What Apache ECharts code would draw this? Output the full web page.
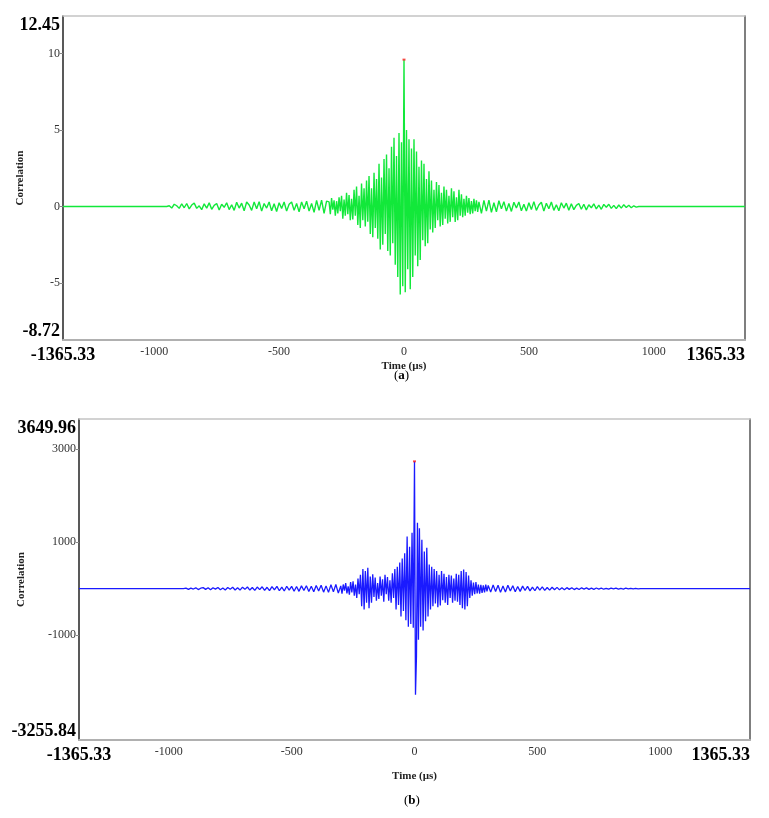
<!DOCTYPE html>
<html><head><meta charset="utf-8">
<script src="https://cdn.jsdelivr.net/npm/echarts@6/dist/echarts.min.js"></script>
<style>html,body{margin:0;padding:0;background:#fff}#c{width:769px;height:818px}</style>
</head><body><div id="c"></div><script>
// ---- tick labels ----
const xTicks = [-1365.33, -1000, -500, 0, 500, 1000, 1365.33];
const yTicksA = [-8.72, -5, 0, 5, 10, 12.45];
const yTicksB = [-3255.84, -1000, 1000, 3000, 3649.96];
const xRange = [-1365.33, 1365.33];
const yRangeA = [-8.72, 12.45];
const yRangeB = [-3255.84, 3649.96];

// ---- panel (a): correlation vs time (µs) ----
const signalA = [
[-1365.33,0],[-950,0],
[-940,0.05],[-930,-0.1],[-920,0.15],[-910,0.05],[-900,-0.12],[-890,0.18],[-880,-0.08],[-870,0.2],
[-860,-0.15],[-850,0.1],[-840,0.22],[-830,-0.12],[-820,0.05],[-810,-0.2],[-800,0.18],[-790,-0.1],
[-780,0.24],[-770,-0.18],[-760,0.08],[-750,0.2],[-740,-0.22],[-730,0.15],[-720,-0.05],[-710,0.25],
[-700,-0.2],[-690,0.12],[-680,-0.25],[-670,0.28],[-660,-0.1],[-650,0.22],[-640,-0.28],[-630,0.3],
[-620,0.1],[-610,-0.25],[-600,0.3],[-590,-0.15],[-580,0.32],[-570,-0.3],[-560,0.2],[-550,-0.1],
[-540,0.3],[-530,-0.28],[-520,0.18],[-510,-0.32],[-500,0.25],[-490,-0.12],[-480,0.3],[-470,-0.3],
[-460,0.15],[-450,0.3],[-440,-0.25],[-430,0.2],[-420,-0.35],[-410,0.3],[-400,-0.15],[-390,0.35],
[-380,-0.3],[-370,0.2],[-360,-0.38],[-350,0.4],[-340,-0.25],[-330,0.42],[-320,-0.45],[-310,0.35],
[-300,0.3],[-295,-0.5],[-290,0.55],[-285,-0.2],[-280,0.4],[-275,-0.6],[-270,0.35],[-265,-0.45],
[-260,0.6],[-255,-0.3],[-250,0.7],[-245,-0.8],[-240,0.45],[-235,-0.6],[-230,0.9],[-225,-0.5],
[-220,0.75],[-215,-0.9],[-210,0.5],[-205,-0.85],[-200,1.1],[-195,-0.6],[-190,1.3],[-185,-1.2],
[-180,0.7],[-175,-1.4],[-170,1.5],[-165,-0.9],[-160,1.2],[-155,-1.3],[-150,1.7],[-145,-1.0],
[-140,2.0],[-135,-1.8],[-130,1.2],[-125,-2.0],[-120,2.2],[-115,-1.4],[-110,1.8],[-105,-2.1],
[-100,2.8],[-95,-2.8],[-90,1.9],[-85,-2.5],[-80,3.1],[-75,-1.8],[-70,3.4],[-65,-2.9],
[-60,2.5],[-55,-3.2],[-50,3.9],[-45,-2.4],[-40,4.5],[-35,-3.8],[-30,3.3],[-25,-4.6],
[-20,4.8],[-15,-5.75],[-10,4.2],[-5,-5.2],[0,9.6],[5,-5.6],[10,5.0],[15,-4.1],
[20,4.4],[25,-5.4],[30,3.8],[35,-4.6],[40,4.4],[45,-3.2],[50,3.6],[55,-3.9],
[60,2.6],[65,-3.5],[70,3.0],[75,-2.2],[80,2.8],[85,-2.6],[90,1.8],[95,-2.4],
[100,2.3],[105,-1.5],[110,1.7],[115,-1.7],[120,1.1],[125,-1.4],[130,1.6],[135,-0.9],
[140,1.4],[145,-1.3],[150,0.9],[155,-1.2],[160,1.3],[165,-0.8],[170,1.1],[175,-1.1],
[180,0.7],[185,-1.0],[190,1.2],[195,-0.7],[200,1.0],[205,-1.0],[210,0.6],[215,-0.9],
[220,1.1],[225,-0.6],[230,0.8],[235,-0.7],[240,0.5],[245,-0.6],[250,0.7],[255,-0.4],
[260,0.55],[265,-0.5],[270,0.35],[275,-0.45],[280,0.5],[285,-0.3],[290,0.4],[295,-0.35],
[300,0.3],
[310,-0.45],[320,0.4],[330,-0.3],[340,0.42],[350,-0.38],[360,0.25],[370,-0.35],[380,0.38],
[390,-0.15],[400,0.32],[410,-0.3],[420,0.2],[430,-0.32],[440,0.28],[450,-0.1],[460,0.3],
[470,-0.28],[480,0.15],[490,-0.3],[500,0.25],[510,-0.2],[520,0.32],[530,-0.25],[540,0.1],
[550,0.28],[560,-0.3],[570,0.22],[580,-0.15],[590,0.3],[600,-0.25],[610,0.12],[620,-0.28],
[630,0.25],[640,-0.1],[650,0.22],[660,-0.24],[670,0.18],[680,-0.2],[690,0.08],[700,0.2],
[710,-0.18],[720,0.15],[730,-0.22],[740,0.12],[750,-0.08],[760,0.18],[770,-0.15],[780,0.1],
[790,-0.18],[800,0.14],[810,-0.05],[820,0.15],[830,-0.12],[840,0.08],[850,-0.14],[860,0.1],
[870,-0.1],[880,0.12],[890,-0.06],[900,0.08],[910,-0.08],[920,0.05],[930,-0.04],[940,0],
[1365.33,0]
];
const peakA = [[0, 9.6]];

// ---- panel (b) ----
const signalB = [
[-1365.33,0],[-940,0],
[-930,10],[-920,-15],[-910,12],[-900,-8],[-890,18],[-880,-20],[-870,10],[-860,22],
[-850,-15],[-840,18],[-830,-25],[-820,20],[-810,-10],[-800,25],[-790,-22],[-780,15],
[-770,-28],[-760,25],[-750,-12],[-740,30],[-730,-28],[-720,20],[-710,-30],[-700,32],
[-690,-15],[-680,35],[-670,-30],[-660,25],[-650,-38],[-640,35],[-630,-20],[-620,40],
[-610,-38],[-600,30],[-590,-42],[-580,45],[-570,-25],[-560,48],[-550,-45],[-540,35],
[-530,-50],[-520,52],[-510,-30],[-500,50],[-490,-55],[-480,45],[-470,-58],[-460,60],
[-450,-40],[-440,62],[-430,-60],[-420,50],[-410,-65],[-400,68],[-390,-50],[-380,72],
[-370,-75],[-360,60],[-350,-80],[-340,85],[-330,-70],[-320,90],[-310,-95],
[-300,60],[-295,-110],[-290,90],[-285,-40],[-280,120],[-275,-100],[-270,50],[-265,-130],
[-260,140],[-255,-80],[-250,160],[-245,-150],[-240,90],[-235,-200],[-230,220],[-225,-120],
[-220,300],[-215,-380],[-210,420],[-205,-450],[-200,380],[-195,-300],[-190,450],[-185,-420],
[-180,260],[-175,-300],[-170,310],[-165,-180],[-160,240],[-155,-260],[-150,120],[-145,-220],
[-140,260],[-135,-150],[-130,200],[-125,-280],[-120,300],[-115,-120],[-110,250],[-105,-260],
[-100,180],[-95,-300],[-90,330],[-85,-200],[-80,420],[-75,-450],[-70,470],[-65,-350],
[-60,560],[-55,-600],[-50,650],[-45,-480],[-40,760],[-35,-680],[-30,1120],[-25,-820],
[-20,900],[-15,-760],[-10,1200],[-5,-840],[0,2739],[4,-2280],[8,-1460],[12,1420],
[16,-1100],[20,1300],[25,-820],[30,1050],[35,-900],[40,800],[45,-700],[50,880],
[55,-600],[60,520],[65,-450],[70,470],[75,-380],[80,420],[85,-320],[90,380],
[95,-400],[100,300],[105,-360],[110,380],[115,-250],[120,320],[125,-300],[130,250],
[135,-350],[140,300],[145,-200],[150,280],[155,-300],[160,220],[165,-260],[170,320],
[175,-280],[180,300],[185,-350],[190,380],[195,-420],[200,410],[205,-450],[210,360],
[215,-380],[220,280],[225,-200],[230,180],[235,-150],[240,130],[245,-120],[250,140],
[255,-100],[260,90],[265,-110],[270,80],[275,-90],[280,70],[285,-80],[290,85],
[295,-60],[300,70],
[310,-75],[320,80],[330,-60],[340,75],[350,-80],[360,55],[370,-70],[380,72],
[390,-50],[400,62],[410,-65],[420,45],[430,-58],[440,55],[450,-40],[460,50],
[470,-48],[480,35],[490,-45],[500,42],[510,-30],[520,38],[530,-36],[540,25],
[550,-32],[560,30],[570,-22],[580,28],[590,-26],[600,18],[610,-24],[620,22],
[630,-15],[640,20],[650,-20],[660,12],[670,-18],[680,18],[690,-10],[700,16],
[710,-15],[720,10],[730,-14],[740,14],[750,-8],[760,12],[770,-12],[780,8],
[790,-10],[800,12],[810,-6],[820,10],[830,-10],[840,6],[850,-8],[860,10],
[870,-5],[880,8],[890,-6],[900,4],[910,-3],[920,0],[1365.33,0]
];
const peakB = [[0, 2739]];

const FONT = 'Liberation Serif';
const chart = echarts.init(document.getElementById('c'), null, {renderer:'canvas'});

function bigOrSmall(v, range) {
  if (Math.abs(v - range[0]) < 1e-6 || Math.abs(v - range[1]) < 1e-6) return '{big|' + v.toFixed(2) + '}';
  return '{sm|' + v + '}';
}
const richLab = {
  big: {fontFamily: FONT, fontSize: 18, fontWeight: 'bold', color: '#000'},
  sm: {fontFamily: FONT, fontSize: 12, color: '#333'}
};

function xAxes(gridIndex, nameGap) {
  return [{
    type: 'value', gridIndex, min: xRange[0], max: xRange[1], position: 'bottom',
    name: 'Time (µs)', nameLocation: 'middle', nameGap, nameMoveOverlap: false,
    nameTextStyle: {fontFamily: FONT, fontSize: 11, fontWeight: 'bold', color: '#222'},
    axisLine: {show: true, onZero: false, lineStyle: {color: '#b0b0b0', width: 2}},
    axisTick: {show: false},
    splitLine: {show: false},
    axisLabel: {customValues: xTicks, margin: 6, alignMaxLabel: 'right', rich: richLab,
      formatter: v => bigOrSmall(v, xRange)}
  }, {
    type: 'value', gridIndex, min: xRange[0], max: xRange[1], position: 'top',
    axisLine: {show: true, onZero: false, lineStyle: {color: '#c4c4c4', width: 1.5}},
    axisTick: {show: false}, axisLabel: {show: false}, splitLine: {show: false}
  }];
}
function yAxes(gridIndex, range, ticks, nameGap) {
  return [{
    type: 'value', gridIndex, min: range[0], max: range[1], position: 'left',
    name: 'Correlation', nameLocation: 'middle', nameGap, nameMoveOverlap: false,
    nameTextStyle: {fontFamily: FONT, fontSize: 11, fontWeight: 'bold', color: '#222'},
    axisLine: {show: true, onZero: false, lineStyle: {color: '#222', width: 1.5}},
    axisTick: {show: true, customValues: ticks.slice(1, -1), length: 3, lineStyle: {color: '#888'}},
    splitLine: {show: false},
    axisLabel: {customValues: ticks, margin: 3, rich: richLab,
      verticalAlignMaxLabel: 'top', verticalAlignMinLabel: 'bottom',
      formatter: v => bigOrSmall(v, range)}
  }, {
    type: 'value', gridIndex, min: range[0], max: range[1], position: 'right',
    axisLine: {show: true, onZero: false, lineStyle: {color: '#555', width: 1.5}},
    axisTick: {show: false}, axisLabel: {show: false}, splitLine: {show: false}
  }];
}

chart.setOption({
  animation: false,
  backgroundColor: '#fff',
  grid: [
    {left: 63, top: 16, width: 682, height: 324, containLabel: false, outerBoundsMode: 'none'},
    {left: 79, top: 419, width: 671, height: 321, containLabel: false, outerBoundsMode: 'none'}
  ],
  xAxis: [...xAxes(0, 21), ...xAxes(1, 31)],
  yAxis: [...yAxes(0, yRangeA, yTicksA, 37), ...yAxes(1, yRangeB, yTicksB, 52)],
  series: [
    {type: 'line', xAxisIndex: 0, yAxisIndex: 0, data: signalA, showSymbol: false, sampling: null,
      lineStyle: {color: '#12e83a', width: 1.4}, z: 2},
    {type: 'scatter', xAxisIndex: 0, yAxisIndex: 0, data: peakA, symbol: 'rect', symbolSize: [3, 2],
      itemStyle: {color: '#ff2020'}, z: 3},
    {type: 'line', xAxisIndex: 2, yAxisIndex: 2, data: signalB, showSymbol: false, sampling: null,
      lineStyle: {color: '#1a1aff', width: 1.3}, z: 2},
    {type: 'scatter', xAxisIndex: 2, yAxisIndex: 2, data: peakB, symbol: 'rect', symbolSize: [3, 2],
      itemStyle: {color: '#ff2020'}, z: 3}
  ],
  graphic: [
    {type: 'text', left: 394, top: 369, style: {text: '({a|a})', fontFamily: FONT, fontSize: 13, fill: '#000',
      rich: {a: {fontFamily: FONT, fontSize: 13, fontWeight: 'bold', fill: '#000'}}}},
    {type: 'text', left: 404, top: 794, style: {text: '({a|b})', fontFamily: FONT, fontSize: 13, fill: '#000',
      rich: {a: {fontFamily: FONT, fontSize: 13, fontWeight: 'bold', fill: '#000'}}}}
  ]
});
</script></body></html>
